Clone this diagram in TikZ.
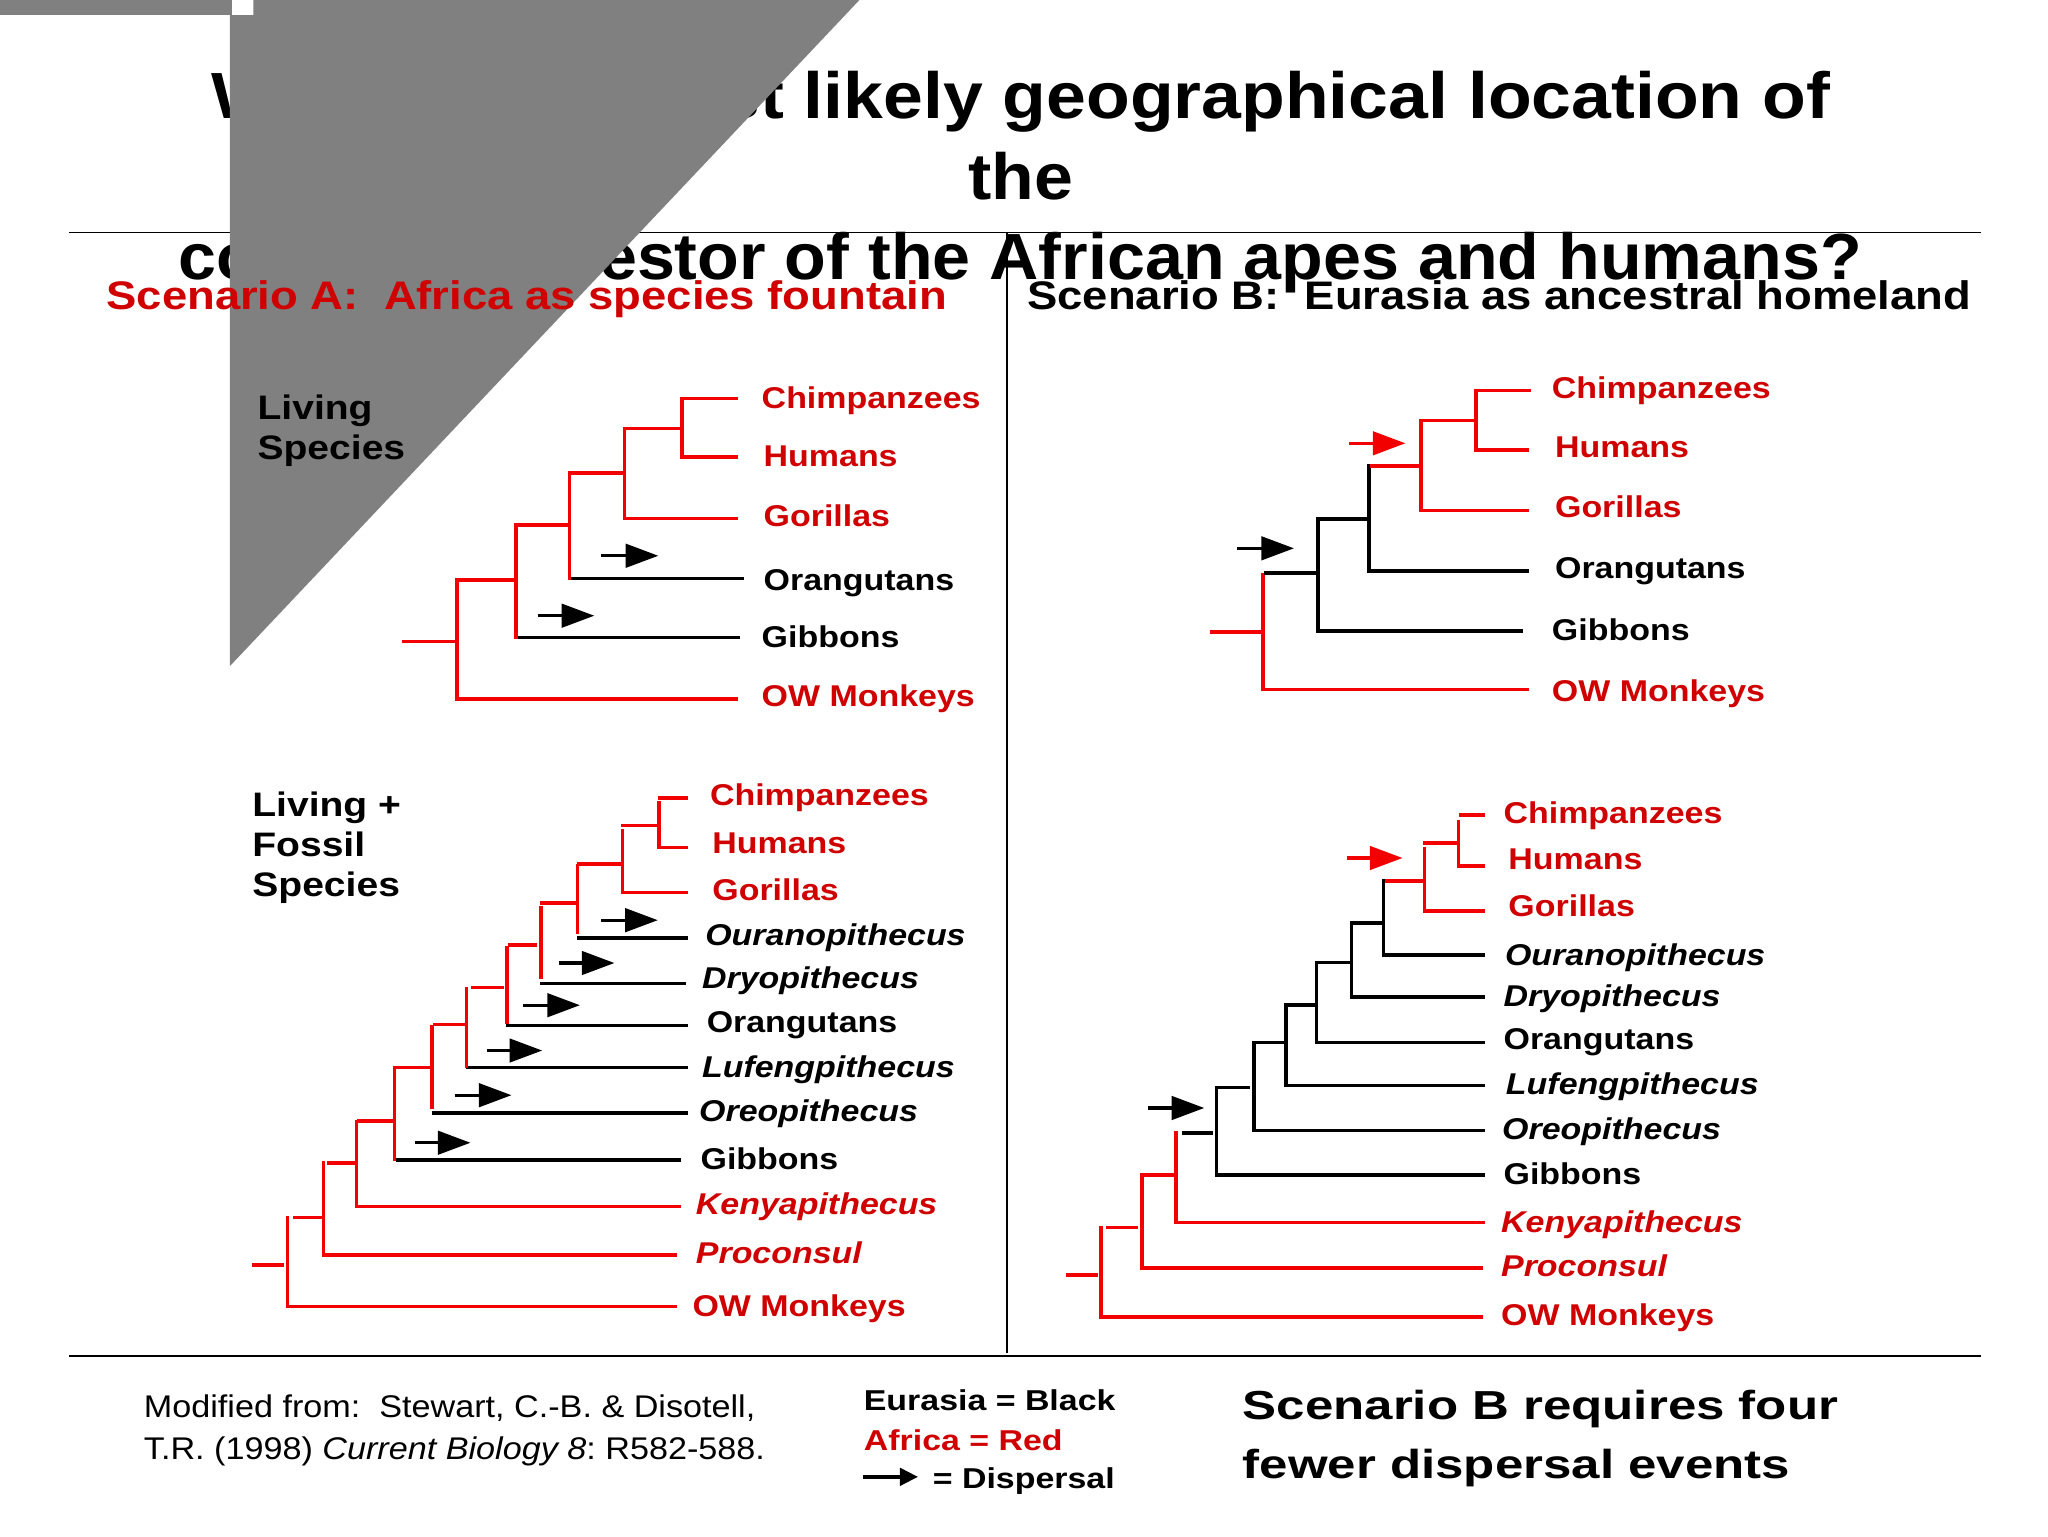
\documentclass[tikz,border=0pt]{standalone}
\usepackage{fontspec}
\setmainfont{Liberation Sans}
\usetikzlibrary{arrows.meta}
\newfontfamily\fTitleA[FakeStretch=1.096]{Liberation Sans}
\newfontfamily\fTitleB[FakeStretch=1.07]{Liberation Sans}
\newfontfamily\fTitleC[FakeStretch=1.045]{Liberation Sans}
\newfontfamily\fHead[FakeStretch=1.14]{Liberation Sans}
\newfontfamily\fLab[FakeStretch=1.13]{Liberation Sans}
\newfontfamily\fLiv[FakeStretch=1.15]{Liberation Sans}
\newfontfamily\fRef[FakeStretch=1.09]{Liberation Sans}
\newfontfamily\fLeg[FakeStretch=1.18]{Liberation Sans}
\newfontfamily\fConc[FakeStretch=1.26]{Liberation Sans}
\definecolor{lred}{RGB}{242,0,0}
\definecolor{tred}{RGB}{208,0,0}
\definecolor{slidegray}{RGB}{128,128,128}
\begin{document}
\begin{tikzpicture}[x=1pt,y=-1pt,
  rl/.style={draw=lred, line width=2.7pt, line cap=rect},
  bl/.style={draw=black, line width=2.7pt, line cap=rect},
  rarr/.style={draw=lred, line width=2.4pt, -{Triangle[length=25pt,width=18pt,fill=lred]}},
  barr/.style={draw=black, line width=2.4pt, -{Triangle[length=25pt,width=18pt]}},
  rule/.style={draw=black, line width=1.5pt},
  ttl/.style={anchor=base, font=\bfseries\fontsize{50}{50}\selectfont},
  head/.style={anchor=base west, font=\fHead\bfseries\frenchspacing\fontsize{30.5}{32}\selectfont},
  lab/.style={anchor=base west, inner sep=0pt, font=\fLab\bfseries\fontsize{23}{25}\selectfont},
  rlab/.style={lab, text=tred},
  ilab/.style={lab, font=\fLab\bfseries\itshape\fontsize{23}{25}\selectfont},
  rilab/.style={ilab, text=tred},
  liv/.style={anchor=base west, inner sep=0pt, align=left, font=\fLiv\bfseries\fontsize{26}{30.8}\selectfont},
  ref/.style={anchor=base west, inner sep=0pt, font=\fRef\frenchspacing\fontsize{24}{26}\selectfont},
  leg/.style={anchor=base west, inner sep=0pt, font=\fLeg\bfseries\fontsize{22}{24}\selectfont},
  conc/.style={anchor=base west, inner sep=0pt, font=\fConc\bfseries\fontsize{31}{33}\selectfont}]
\useasboundingbox[fill=white] (0,0) rectangle (1568,1176);

% ---------- title ----------
\node[ttl, font=\fTitleA\bfseries\fontsize{50}{50}\selectfont] (t1) at (781.5,91) {What is the most likely geographical location of};
\node[ttl, font=\fTitleB\bfseries\fontsize{50}{50}\selectfont] (t2) at (781.5,153) {the};
\node[ttl, font=\fTitleC\bfseries\fontsize{50}{50}\selectfont] (t3) at (781,214) {common ancestor of the African apes and humans?};

% ---------- rules ----------
\coordinate (r1a) at (53,178);  \coordinate (r1b) at (1517,178);
\coordinate (r2a) at (53,1038); \coordinate (r2b) at (1517,1038);
\coordinate (vda) at (771,178); \coordinate (vdb) at (771,1036);
\draw[rule] (r1a) -- (r1b);
\draw[rule] (r2a) -- (r2b);
\draw[rule, line width=1.3pt] (vda) -- (vdb);

% ---------- gray overlay ----------
\fill[slidegray] (0,0) rectangle (178,11.5);
\fill[slidegray] (178,11.5) -- (194,11.5) -- (194,0) -- (658,0) -- (176,510) -- (176,11.5) -- cycle;

% ---------- headings ----------
\node[head, text=tred] (ha) at (78,237) {Scenario A:\ \ Africa as species fountain};
\node[head] (hb) at (783,237) {Scenario B:\ \ Eurasia as ancestral homeland};

\node[liv] (liv1) at (197,352) {Living\\Species};
\node[liv] (liv2) at (193,686.7) {Living +\\Fossil\\Species};

% ========== Tree A1 ==========
\draw[bl] (395,488) -- (565,488);
\draw[bl] (436,443) -- (568,443);
\draw[rl] (309,491) -- (350,491);
\draw[rl] (350,444) -- (350,535);
\draw[rl] (350,535) -- (564,535);
\draw[rl] (350,444) -- (395,444);
\draw[rl] (395,402) -- (395,488);
\draw[rl] (395,402) -- (436,402);
\draw[rl] (436,362) -- (436,443);
\draw[rl] (436,362) -- (478,362);
\draw[rl] (478,328) -- (478,397);
\draw[rl] (478,397) -- (564,397);
\draw[rl] (478,328) -- (522,328);
\draw[rl] (522,305) -- (522,350);
\draw[rl] (522,305) -- (564,305);
\draw[rl] (522,350) -- (564,350);
\coordinate (aa1) at (460,425.5); \coordinate (ab1) at (504,425.5);
\coordinate (aa2) at (412,471.4); \coordinate (ab2) at (455,471.4);
\draw[barr] (aa1) -- (ab1);
\draw[barr] (aa2) -- (ab2);
\node[rlab] (a1c) at (583,312.6) {Chimpanzees};
\node[rlab] (a1h) at (584.5,356.8) {Humans};
\node[rlab] (a1g) at (584.5,403.3) {Gorillas};
\node[lab]  (a1o) at (584.5,451.8) {Orangutans};
\node[lab]  (a1b) at (583,495.6) {Gibbons};
\node[rlab] (a1m) at (583,541.1) {OW Monkeys};

% ========== Tree B1 ==========
\draw[rl] (928,484) -- (967,484);
\draw[rl] (967,440) -- (967,528);
\draw[rl] (967,528) -- (1169,528);
\draw[bl] (969,438.5) -- (1009,438.5);
\draw[bl] (1009,397.4) -- (1009,483);
\draw[bl] (1010,483) -- (1165,483);
\draw[bl] (1009,397.4) -- (1048,397.4);
\draw[bl] (1048,356.6) -- (1048,437);
\draw[bl] (1048,437) -- (1169,437);
\draw[rl] (1050,356.6) -- (1088,356.6);
\draw[rl] (1088,322) -- (1088,391);
\draw[rl] (1088,391) -- (1169,391);
\draw[rl] (1090,322) -- (1130,322);
\draw[rl] (1130,299) -- (1130,344.6);
\draw[rl] (1132,299) -- (1171,299);
\draw[rl] (1130,344.6) -- (1169,344.6);
\coordinate (ba1) at (1033,339.4); \coordinate (bb1) at (1076,339.4);
\coordinate (ba2) at (947.4,419.8); \coordinate (bb2) at (990.7,419.8);
\draw[rarr] (ba1) -- (bb1);
\draw[barr] (ba2) -- (bb2);
\node[rlab] (b1c) at (1188,305) {Chimpanzees};
\node[rlab] (b1h) at (1190.4,350.2) {Humans};
\node[rlab] (b1g) at (1190.4,396.1) {Gorillas};
\node[lab]  (b1o) at (1190.4,442.8) {Orangutans};
\node[lab]  (b1b) at (1188,490) {Gibbons};
\node[rlab] (b1m) at (1188,537.3) {OW Monkeys};

% ========== Tree A2 ==========
\draw[bl] (304.9,888.3) -- (520,888.3);
\draw[bl] (332,852.2) -- (525.3,852.2);
\draw[bl] (358,817.4) -- (525.3,817.4);
\draw[bl] (388.7,785.2) -- (525.3,785.2);
\draw[bl] (415.1,752.9) -- (523.5,752.9);
\draw[bl] (443.3,718.1) -- (525.3,718.1);
\draw[rl] (194.6,968.4) -- (216.3,968.4);
\draw[rl] (220,932) -- (220,1000.4);
\draw[rl] (222.5,1000.4) -- (517,1000.4);
\draw[rl] (225.4,932) -- (247,932);
\draw[rl] (247.8,890.5) -- (247.8,961);
\draw[rl] (247.8,961) -- (517,961);
\draw[rl] (251.7,890.5) -- (273,890.5);
\draw[rl] (273,859) -- (273,923.8);
\draw[rl] (273,923.8) -- (520,923.8);
\draw[rl] (275,858.2) -- (299.4,858.2);
\draw[rl] (302,819.9) -- (302,887.7);
\draw[rl] (302.3,817.2) -- (327.6,817.2);
\draw[rl] (330.9,786) -- (330.9,847.5);
\draw[rl] (332.7,784.3) -- (355.5,784.3);
\draw[rl] (357.3,757) -- (357.3,816.6);
\draw[rl] (361.6,755.9) -- (384.4,755.9);
\draw[rl] (388,725.5) -- (388,782.4);
\draw[rl] (390,723.6) -- (409.7,723.6);
\draw[rl] (414,694.9) -- (414,748.2);
\draw[rl] (415.1,691.3) -- (440.4,691.3);
\draw[rl] (442.2,662.9) -- (442.2,714);
\draw[rl] (443.3,661.3) -- (474.7,661.3);
\draw[rl] (476.5,636) -- (476.5,683.4);
\draw[rl] (476.5,683.4) -- (525.3,683.4);
\draw[rl] (476.5,632) -- (503.6,632);
\draw[rl] (504.4,614.8) -- (504.4,649);
\draw[rl] (505.4,610.9) -- (525.3,610.9);
\draw[rl] (504.4,649) -- (525.3,649);
\coordinate (ca1) at (460.3,704.5); \coordinate (cb1) at (503.6,704.5);
\coordinate (ca2) at (427.7,737.3); \coordinate (cb2) at (470.4,737.3);
\coordinate (ca3) at (400.6,769.6); \coordinate (cb3) at (444,769.6);
\coordinate (ca4) at (372.5,804.3); \coordinate (cb4) at (415.1,804.3);
\coordinate (ca5) at (348.2,838.5); \coordinate (cb5) at (391.6,838.5);
\coordinate (ca6) at (317.5,874.9); \coordinate (cb6) at (360.2,874.9);
\foreach \i in {1,...,6} {\draw[barr] (ca\i) -- (cb\i);}
\node[rlab]  (a2c) at (543.4,617) {Chimpanzees};
\node[rlab]  (a2h) at (545.2,653.1) {Humans};
\node[rlab]  (a2g) at (545.2,689.4) {Gorillas};
\node[ilab]  (a2u) at (539.8,723.6) {Ouranopithecus};
\node[ilab]  (a2d) at (537.3,757) {Dryopithecus};
\node[lab]   (a2o) at (540.9,790.6) {Orangutans};
\node[ilab]  (a2l) at (537.3,824.8) {Lufengpithecus};
\node[ilab]  (a2r) at (535.1,859) {Oreopithecus};
\node[lab]   (a2b) at (536.2,895.4) {Gibbons};
\node[rilab] (a2k) at (532.6,930.1) {Kenyapithecus};
\node[rilab] (a2p) at (532.6,967.6) {Proconsul};
\node[rlab]  (a2m) at (530,1008) {OW Monkeys};

% ========== Tree B2 ==========
\draw[rl] (817.7,976) -- (839.3,976);
\draw[rl] (843,939.9) -- (843,1008.3);
\draw[rl] (845.6,1008.3) -- (1134.3,1008.3);
\draw[rl] (848.5,939.9) -- (869.7,939.9);
\draw[rl] (874.5,899.5) -- (874.5,970.6);
\draw[rl] (874.5,970.6) -- (1134.3,970.6);
\draw[rl] (877.1,899.5) -- (899.7,899.5);
\draw[rl] (900.5,867.5) -- (900.5,935.8);
\draw[rl] (901,935.8) -- (1135.4,935.8);
\draw[bl] (906,867.5) -- (927.2,867.5);
\draw[bl] (931.3,832.5) -- (931.3,899.5);
\draw[bl] (932,899.5) -- (1135.4,899.5);
\draw[bl] (933.9,832.5) -- (955.4,832.5);
\draw[bl] (959.9,798.3) -- (959.9,865.5);
\draw[bl] (959.9,865.5) -- (1135.4,865.5);
\draw[bl] (960.6,798.3) -- (982.1,798.3);
\draw[bl] (984.7,769.5) -- (984.7,831.1);
\draw[bl] (984.7,831.1) -- (1135.4,831.1);
\draw[bl] (986,769.5) -- (1007.4,769.5);
\draw[bl] (1008,737) -- (1008,797.7);
\draw[bl] (1010.7,798.3) -- (1135.4,798.3);
\draw[bl] (1010.7,737) -- (1033,737);
\draw[bl] (1034.8,706.6) -- (1034.8,763.5);
\draw[bl] (1037,763.5) -- (1135.4,763.5);
\draw[bl] (1036,706.6) -- (1059.3,706.6);
\draw[bl] (1059.3,674.6) -- (1059.3,731.3);
\draw[bl] (1059.3,731.3) -- (1135.4,731.3);
\draw[rl] (1061.9,674.6) -- (1089.8,674.6);
\draw[rl] (1090.5,650) -- (1090.5,697.3);
\draw[rl] (1090.9,697.3) -- (1135.4,697.3);
\draw[rl] (1090.9,645.4) -- (1115.7,645.4);
\draw[rl] (1116.8,629) -- (1116.8,662.9);
\draw[rl] (1118,624) -- (1135.4,624);
\draw[rl] (1116.8,662.9) -- (1135.4,662.9);
\coordinate (da1) at (1031,656.9); \coordinate (db1) at (1073.8,656.9);
\coordinate (da2) at (879,848.3);  \coordinate (db2) at (922,848.3);
\draw[rarr] (da1) -- (db1);
\draw[barr] (da2) -- (db2);
\node[rlab]  (b2c) at (1151,630.1) {Chimpanzees};
\node[rlab]  (b2h) at (1154.7,665.6) {Humans};
\node[rlab]  (b2g) at (1154.7,702) {Gorillas};
\node[ilab]  (b2u) at (1152.1,738.9) {Ouranopithecus};
\node[ilab]  (b2d) at (1151,770.4) {Dryopithecus};
\node[lab]   (b2o) at (1151,803.7) {Orangutans};
\node[ilab]  (b2l) at (1152.8,837.9) {Lufengpithecus};
\node[ilab]  (b2r) at (1149.9,872.4) {Oreopithecus};
\node[lab]   (b2b) at (1151,906.6) {Gibbons};
\node[rilab] (b2k) at (1149.1,943.5) {Kenyapithecus};
\node[rilab] (b2p) at (1149.1,977.4) {Proconsul};
\node[rlab]  (b2m) at (1149.1,1015.2) {OW Monkeys};

% ---------- footer ----------
\node[ref] (ref1) at (110,1085.2) {Modified from:\ \ Stewart, C.-B. \& Disotell,};
\node[ref] (ref2) at (110,1117.4) {T.R. (1998) \textit{Current Biology 8}: R582-588.};
\node[leg] (lg1) at (661.2,1079.6) {Eurasia = Black};
\node[leg, text=tred] (lg2) at (661.2,1110.8) {Africa = Red};
\node[leg] (lg3) at (714,1139.6) {= Dispersal};
\coordinate (lga) at (661,1130.7); \coordinate (lgb) at (703,1130.7);
\draw[line width=3.5pt, -{Triangle[length=14pt,width=13pt]}] (lga) -- (lgb);
\node[conc] (c1) at (951.3,1086.5) {Scenario B requires four};
\node[conc] (c2) at (951.3,1132) {fewer dispersal events};
\end{tikzpicture}
\end{document}
